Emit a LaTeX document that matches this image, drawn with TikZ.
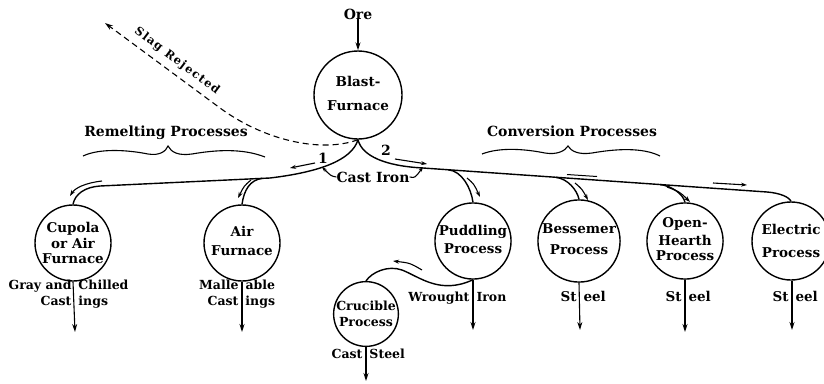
\documentclass[tikz,border=0pt]{standalone}
\usepackage{fontspec}
\setmainfont{DejaVu Serif}
\usetikzlibrary{arrows.meta}
\newcommand\splitlbl[2]{\llap{#1\hspace{3.5pt}}\rlap{\hspace{3.5pt}#2}}
\newcommand\lift[2]{\raisebox{#1}{\begin{tabular}{@{}c@{}}#2\end{tabular}}}
\begin{document}
\begin{tikzpicture}[x=1pt,y=-1pt,
  txt/.style={font=\fontsize{14}{16}\selectfont\bfseries,inner sep=0pt,align=center},
  prod/.style={font=\fontsize{12.5}{15}\selectfont\bfseries,inner sep=0pt,align=center},
  proc/.style={circle,draw,line width=1.4pt,inner sep=0pt,minimum size=76pt,align=center,font=\fontsize{13.5}{15.5}\selectfont\bfseries},
  flow/.style={line width=1.4pt},
  outarr/.style={line width=1.1pt,-{Stealth[length=8pt,width=5pt]}},
  dirarr/.style={line width=1.1pt,-{Stealth[length=6pt,width=4pt]}},
  bracepath/.style={line width=1.1pt}
]
\useasboundingbox (0,0) rectangle (824,383);

% process circles
\node[proc,minimum size=88pt] (bf) at (358,95) {\lift{5pt}{Blast-\\[8.5pt]Furnace}};
\node[proc] (cup) at (73,243) {Cupola\\or Air\\Furnace};
\node[proc] (air) at (242,243) {\lift{3pt}{Air\\[3.5pt]Furnace}};
\node[proc] (pud) at (473,241) {\lift{2pt}{Puddling\\[2.5pt]Process}};
\node[proc] (bes) at (579,241) {\lift{-1pt}{Bessemer\\[5.5pt]Process}};
\node[proc] (oh) at (685,241) {\lift{1pt}{Open-\\[2.5pt]Hearth\\Process}};
\node[proc,minimum size=78pt] (ele) at (791,241) {Electric\\[7.5pt]Process};
\node[proc,minimum size=64pt,font=\fontsize{12.5}{15}\selectfont\bfseries] (cru) at (366,314) {Crucible\\[1pt]Process};

% input
\node[txt] (ore) at (358,14) {Ore};
\draw[outarr] (ore.south) -- (bf.north);

% group labels and braces
\node[txt] (rem) at (166,133) {Remelting Processes};
\node[txt] (con) at (572,131) {Conversion Processes};
\draw[bracepath] (83,156) .. controls (100,148) and (128,150) .. (148,154)
  .. controls (160,156) and (166,151) .. (168,146)
  .. controls (171,152) and (178,156) .. (192,154)
  .. controls (215,150) and (242,148) .. (265,157);
\draw[bracepath] (482,154) .. controls (500,147) and (525,149) .. (545,153)
  .. controls (557,155) and (565,151) .. (568,146)
  .. controls (571,151) and (578,155) .. (592,153)
  .. controls (615,149) and (642,147) .. (660,156);

% slag
\node[txt,font=\fontsize{11.5}{14}\selectfont\bfseries\addfontfeatures{LetterSpace=12},rotate=-37] (slag) at (177,61) {Slag Rejected};
\coordinate (slagend) at (105,23);
\draw[line width=1.1pt,dash pattern=on 6pt off 4pt,-{Stealth[length=8pt,width=5pt]}]
  (bf.south) .. controls (322,153) and (265,141) .. (220,108) -- (slagend);

% junctions
\coordinate (jair) at (262,178.4);
\coordinate (jpud) at (448,169.7);
\coordinate (jbes) at (556,177.3);
\coordinate (joh) at (660,184.5);

% main flows
\draw[flow] (bf.south) .. controls (352,160) and (320,172) .. (270,178) -- (100,186)
  .. controls (85,187) and (75,194) .. (cup.north);
\draw[flow] (bf.south) .. controls (362,156) and (385,166) .. (423,168) -- (767,192)
  .. controls (780,193) and (789,197) .. (ele.north);
\draw[flow] (jair) .. controls (250,180) and (244,190) .. (air.north);
\draw[flow] (jpud) .. controls (462,171) and (471,188) .. (pud.north);
\draw[flow] (jbes) .. controls (568,179) and (577,190) .. (bes.north);
\draw[flow] (joh) .. controls (672,186) and (683,194) .. (oh.north);
\draw[flow] (cru.north) .. controls (372,272) and (388,265) .. (402,270)
  .. controls (420,277) and (440,295) .. (pud.south);

% labels near furnace
\node[txt] (n1) at (323,158) {1};
\node[txt] (n2) at (386,150) {2};
\node[txt] (ci) at (373,177) {Cast Iron};
\draw[dirarr,-{Stealth[length=5pt,width=3.5pt]}] (ci.west) .. controls (331,176) .. (322,167);
\draw[dirarr,-{Stealth[length=5pt,width=3.5pt]}] (ci.east) .. controls (415,178) .. (423,167);

% direction arrows
\draw[dirarr] (315,163) -- (290,168);
\draw[dirarr] (395,159) -- (427,164);
\draw[dirarr] (102,181) .. controls (85,183) and (75,188) .. (70,196);
\draw[dirarr] (251,180) .. controls (244,186) .. (238,198);
\draw[dirarr] (467,178) .. controls (474,184) .. (480,197);
\draw[dirarr] (575,183) .. controls (582,189) .. (588,200);
\draw[dirarr] (667,187) .. controls (680,192) .. (690,202);
\draw[line width=1pt] (567,174.5) -- (597,176.5);
\draw[dirarr] (713,183) -- (747,185);
\draw[dirarr] (422,270) .. controls (410,263) .. (393,261);

% products
\node[prod] (pcup) at (75,294) {\splitlbl{Gray and}{Chilled}\\[1pt]\splitlbl{Cast}{ings}};
\node[prod] (pair) at (242,294) {\splitlbl{Malle}{able}\\[1pt]\splitlbl{Cast}{ings}};
\node[prod] (ppud) at (473,298) {\splitlbl{Wrought}{Iron}};
\node[prod,font=\fontsize{13.5}{15}\selectfont\bfseries] (pbes) at (580,296) {\splitlbl{St}{eel}};
\node[prod,font=\fontsize{13.5}{15}\selectfont\bfseries] (poh) at (685,296) {\splitlbl{St}{eel}};
\node[prod,font=\fontsize{13.5}{15}\selectfont\bfseries] (pele) at (792,296) {\splitlbl{St}{eel}};
\node[prod] (pcru) at (366,354) {\splitlbl{Cast}{Steel}};

\coordinate (ocup) at (75,332);
\coordinate (oair) at (242,332);
\coordinate (opud) at (473,330);
\coordinate (obes) at (580,330);
\coordinate (ooh) at (685,332);
\coordinate (oele) at (792,330);
\coordinate (ocru) at (366,381);
\draw[outarr] (cup.south) -- (ocup);
\draw[outarr] (air.south) -- (oair);
\draw[outarr] (pud.south) -- (opud);
\draw[outarr] (bes.south) -- (obes);
\draw[outarr] (oh.south) -- (ooh);
\draw[outarr] (ele.south -| oele) -- (oele);
\draw[outarr] (cru.south) -- (ocru);
\end{tikzpicture}
\end{document}
